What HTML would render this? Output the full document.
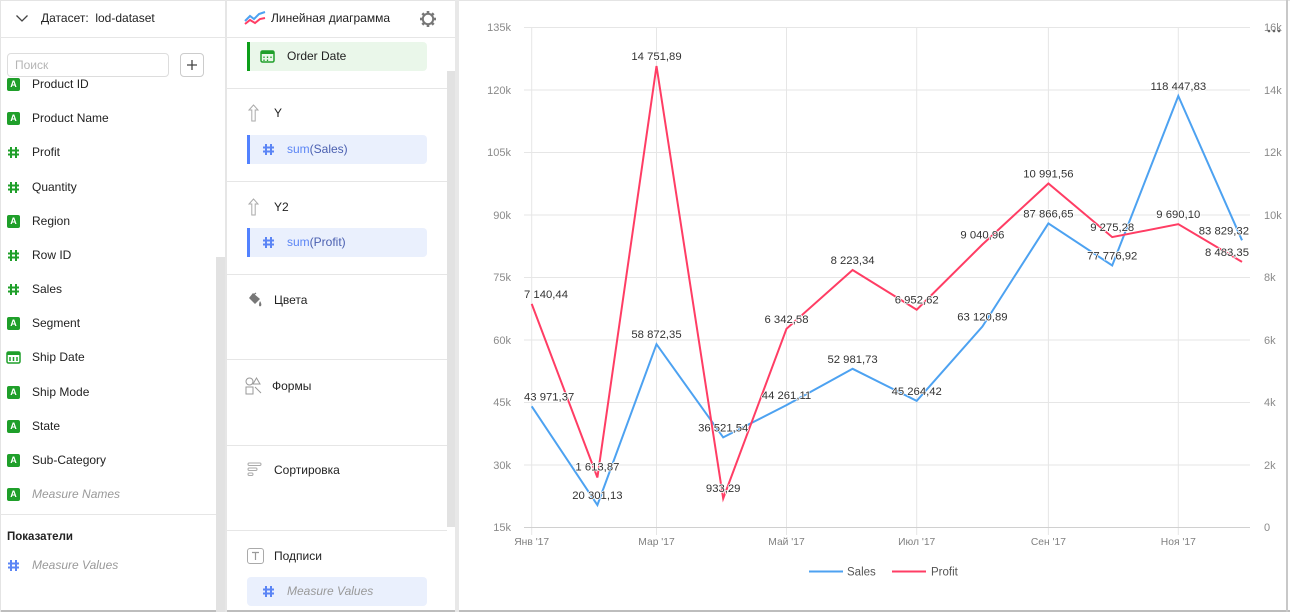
<!DOCTYPE html>
<html><head><meta charset="utf-8">
<style>
*{margin:0;padding:0;box-sizing:border-box}
body{width:1290px;height:612px;overflow:hidden;background:#fff;font-family:"Liberation Sans",sans-serif;color:#222;position:relative}
.a{position:absolute}
.t{position:absolute;height:20px;line-height:20px;font-size:12px;white-space:nowrap;color:#222}
.ai{position:absolute;width:13px;height:13px;background:#1f9f2a;border-radius:2px;color:#fff;font-weight:bold;font-size:9px;line-height:13px;text-align:center}
.box{position:absolute;left:247px;width:180px;height:29px;border-radius:4px}
.div{position:absolute;left:227px;width:220px;height:1px;background:#e6e6e6}
</style></head><body>

<!-- frame lines -->
<div class="a" style="left:0;top:0;width:1290px;height:1px;background:#e4e4e4"></div>
<div class="a" style="left:0;top:610px;width:1290px;height:2px;background:#bdbdbd"></div>
<div class="a" style="left:1286px;top:0;width:2px;height:612px;background:#c8c8c8"></div>
<div class="a" style="left:0;top:0;width:1px;height:612px;background:#e4e4e4"></div>

<!-- left panel -->
<div class="a" style="left:0;top:37px;width:455px;height:1px;background:#e6e6e6"></div>
<div class="a" style="left:225px;top:0;width:2px;height:612px;background:#e6e6e6"></div>
<svg class="a" style="left:15px;top:13px" width="14" height="10"><path d="M1.5 2.5 L7 8 L12.5 2.5" fill="none" stroke="#444" stroke-width="1.3"/></svg>
<div class="t" style="left:41px;top:8px">Датасет:&nbsp; lod-dataset</div>

<div class="a" style="left:7px;top:53px;width:162px;height:24px;border:1px solid #ddd;border-radius:4px"></div>
<div class="t" style="left:15px;top:55px;color:#b5b5b5">Поиск</div>
<div class="a" style="left:180px;top:53px;width:24px;height:24px;border:1px solid #ccc;border-radius:4px"></div>
<svg class="a" style="left:186px;top:59px" width="12" height="12"><path d="M6 1V11M1 6H11" stroke="#444" stroke-width="1.3"/></svg>

<!-- list -->
<div class="ai" style="left:7px;top:78px">A</div><div class="t" style="left:32px;top:74px">Product ID</div>
<div class="ai" style="left:7px;top:112px">A</div><div class="t" style="left:32px;top:108px">Product Name</div>
<svg class="a" style="left:7px;top:146px" width="13" height="13"><path d="M4 1V12M9 1V12M1 4.5H12M1 8.5H12" stroke="#1f9f2a" stroke-width="2"/></svg><div class="t" style="left:32px;top:142px">Profit</div>
<svg class="a" style="left:7px;top:181px" width="13" height="13"><path d="M4 1V12M9 1V12M1 4.5H12M1 8.5H12" stroke="#1f9f2a" stroke-width="2"/></svg><div class="t" style="left:32px;top:177px">Quantity</div>
<div class="ai" style="left:7px;top:215px">A</div><div class="t" style="left:32px;top:211px">Region</div>
<svg class="a" style="left:7px;top:249px" width="13" height="13"><path d="M4 1V12M9 1V12M1 4.5H12M1 8.5H12" stroke="#1f9f2a" stroke-width="2"/></svg><div class="t" style="left:32px;top:245px">Row ID</div>
<svg class="a" style="left:7px;top:283px" width="13" height="13"><path d="M4 1V12M9 1V12M1 4.5H12M1 8.5H12" stroke="#1f9f2a" stroke-width="2"/></svg><div class="t" style="left:32px;top:279px">Sales</div>
<div class="ai" style="left:7px;top:317px">A</div><div class="t" style="left:32px;top:313px">Segment</div>
<svg class="a" style="left:6px;top:351px" width="15" height="13"><rect x="1" y="1" width="13" height="11" rx="1.5" fill="none" stroke="#1f9f2a" stroke-width="1.5"/><rect x="1" y="1" width="13" height="3" fill="#1f9f2a"/><path d="M4 6V10M7.5 6V10M11 6V10" stroke="#1f9f2a" stroke-width="1.5"/></svg><div class="t" style="left:32px;top:347px">Ship Date</div>
<div class="ai" style="left:7px;top:386px">A</div><div class="t" style="left:32px;top:382px">Ship Mode</div>
<div class="ai" style="left:7px;top:420px">A</div><div class="t" style="left:32px;top:416px">State</div>
<div class="ai" style="left:7px;top:454px">A</div><div class="t" style="left:32px;top:450px">Sub-Category</div>
<div class="ai" style="left:7px;top:488px">A</div><div class="t" style="left:32px;top:484px;font-style:italic;color:#999">Measure Names</div>
<div class="a" style="left:0;top:514px;width:216px;height:1px;background:#e6e6e6"></div>
<div class="t" style="left:7px;top:527px;font-weight:bold;font-size:11.5px">Показатели</div>
<svg class="a" style="left:7px;top:559px" width="13" height="13"><path d="M4 1V12M9 1V12M1 4.5H12M1 8.5H12" stroke="#5b85f5" stroke-width="2"/></svg><div class="t" style="left:32px;top:555px;font-style:italic;color:#999">Measure Values</div>
<div class="a" style="left:216px;top:257px;width:9px;height:355px;background:#e2e2e2"></div>

<!-- middle panel -->
<svg class="a" style="left:244px;top:10px" width="22" height="16"><path d="M1 11 L6 6 L10 9 L15 4 L21 2" fill="none" stroke="#4da2f1" stroke-width="2"/><path d="M1 14 L6 10 L11 13 L16 9 L21 8" fill="none" stroke="#ff3d64" stroke-width="2"/></svg>
<div class="t" style="left:271px;top:8px">Линейная диаграмма</div>
<svg class="a" style="left:419px;top:10px" width="18" height="18" viewBox="0 0 18 18"><g transform="translate(9 9)" fill="#777"><circle r="5.2" fill="none" stroke="#777" stroke-width="2"/><rect x="-1.3" y="-8" width="2.6" height="3.2"/><rect x="-1.3" y="4.8" width="2.6" height="3.2"/><rect x="-8" y="-1.3" width="3.2" height="2.6"/><rect x="4.8" y="-1.3" width="3.2" height="2.6"/><g transform="rotate(45)"><rect x="-1.3" y="-8" width="2.6" height="3.2"/><rect x="-1.3" y="4.8" width="2.6" height="3.2"/><rect x="-8" y="-1.3" width="3.2" height="2.6"/><rect x="4.8" y="-1.3" width="3.2" height="2.6"/></g></g></svg>

<div class="box" style="top:42px;background:#eaf7ea"></div>
<div class="a" style="left:247px;top:42px;width:3px;height:29px;background:#0c9e19"></div>
<svg class="a" style="left:260px;top:50px" width="15" height="13"><rect x="1" y="1" width="13" height="11" rx="1.5" fill="none" stroke="#1f9f2a" stroke-width="1.5"/><rect x="1" y="1" width="13" height="3" fill="#1f9f2a"/><path d="M4 6.5V8M7.5 6.5V8M11 6.5V8M4 9.5V11M7.5 9.5V11" stroke="#1f9f2a" stroke-width="1.3"/></svg>
<div class="t" style="left:287px;top:46px">Order Date</div>
<div class="div" style="top:88px"></div>

<svg class="a" style="left:248px;top:104px" width="11" height="18"><path d="M5.5 1 L1 6 H3.8 V17 H7.2 V6 H10 Z" fill="none" stroke="#aaa" stroke-width="1"/></svg>
<div class="t" style="left:274px;top:103px">Y</div>
<div class="box" style="top:135px;background:#eaf0fd"></div>
<div class="a" style="left:247px;top:135px;width:3px;height:29px;background:#5282ff"></div>
<svg class="a" style="left:262px;top:143px" width="13" height="13"><path d="M4 1V12M9 1V12M1 4.5H12M1 8.5H12" stroke="#5b85f5" stroke-width="2"/></svg>
<div class="t" style="left:287px;top:139px"><span style="color:#5b85f5">sum</span><span style="color:#4a5fb0">(Sales)</span></div>
<div class="div" style="top:181px"></div>

<svg class="a" style="left:248px;top:198px" width="11" height="18"><path d="M5.5 1 L1 6 H3.8 V17 H7.2 V6 H10 Z" fill="none" stroke="#aaa" stroke-width="1"/></svg>
<div class="t" style="left:274px;top:197px">Y2</div>
<div class="box" style="top:228px;background:#eaf0fd"></div>
<div class="a" style="left:247px;top:228px;width:3px;height:29px;background:#5282ff"></div>
<svg class="a" style="left:262px;top:236px" width="13" height="13"><path d="M4 1V12M9 1V12M1 4.5H12M1 8.5H12" stroke="#5b85f5" stroke-width="2"/></svg>
<div class="t" style="left:287px;top:232px"><span style="color:#5b85f5">sum</span><span style="color:#4a5fb0">(Profit)</span></div>
<div class="div" style="top:274px"></div>

<svg class="a" style="left:247px;top:292px" width="17" height="16"><path d="M6 1 L2 6 L8 12 L13 7 Z" fill="#777"/><path d="M13 9 Q15 12 14 14 Q12 15 12 13 Q12 11 13 9Z" fill="#777"/><path d="M5 4 L9 1" stroke="#777" stroke-width="1.2"/></svg>
<div class="t" style="left:274px;top:290px">Цвета</div>
<div class="div" style="top:359px"></div>

<svg class="a" style="left:245px;top:377px" width="18" height="18"><circle cx="4.5" cy="4.5" r="3.5" fill="none" stroke="#999" stroke-width="1"/><path d="M11.5 1 L15 7 H8 Z" fill="none" stroke="#999" stroke-width="1"/><rect x="1" y="10" width="7" height="7" fill="none" stroke="#999" stroke-width="1"/><path d="M10 10 L16 16" stroke="#999" stroke-width="1"/></svg>
<div class="t" style="left:272px;top:376px">Формы</div>
<div class="div" style="top:445px"></div>

<svg class="a" style="left:247px;top:462px" width="16" height="16"><rect x="1" y="1" width="13" height="2.5" rx="1.2" fill="none" stroke="#aaa" stroke-width="1"/><rect x="1" y="6" width="9" height="2.5" rx="1.2" fill="none" stroke="#aaa" stroke-width="1"/><rect x="1" y="11" width="5" height="2.5" rx="1.2" fill="none" stroke="#aaa" stroke-width="1"/></svg>
<div class="t" style="left:274px;top:460px">Сортировка</div>
<div class="div" style="top:530px"></div>

<svg class="a" style="left:247px;top:548px" width="18" height="17"><rect x="0.5" y="0.5" width="16" height="15" rx="2.5" fill="none" stroke="#aaa" stroke-width="1"/><path d="M5 4.5 H12 M8.5 4.5 V12" stroke="#999" stroke-width="1.2"/></svg>
<div class="t" style="left:274px;top:546px">Подписи</div>
<div class="box" style="top:577px;background:#eaf0fd"></div>
<svg class="a" style="left:262px;top:585px" width="13" height="13"><path d="M4 1V12M9 1V12M1 4.5H12M1 8.5H12" stroke="#5b85f5" stroke-width="2"/></svg>
<div class="t" style="left:287px;top:581px;font-style:italic;color:#999">Measure Values</div>

<div class="a" style="left:447px;top:71px;width:8px;height:456px;background:#e2e2e2"></div>
<div class="a" style="left:455px;top:0;width:4px;height:612px;background:#e8e8e8"></div>

<!-- chart -->
<svg class="a" style="left:0;top:0" width="1290" height="612" font-family="Liberation Sans, sans-serif">
<g stroke="#e6e6e6" stroke-width="1">
<path d="M524 27.5H1250M524 90H1250M524 152.5H1250M524 215H1250M524 277.5H1250M524 340H1250M524 402.5H1250M524 465H1250"/>
<path d="M531.7 27V535M656.5 27V535M786.5 27V535M916.7 27V535M1048.4 27V535M1178.3 27V535"/>
</g>
<path d="M524 527.5H1250" stroke="#d0d0d0" stroke-width="1"/>
<g font-size="11" fill="#8a8a8a" text-anchor="end">
<text x="511" y="31">135k</text><text x="511" y="94">120k</text><text x="511" y="156">105k</text><text x="511" y="219">90k</text><text x="511" y="281">75k</text><text x="511" y="344">60k</text><text x="511" y="406">45k</text><text x="511" y="469">30k</text><text x="511" y="531">15k</text>
</g>
<g font-size="11" fill="#8a8a8a">
<text x="1264" y="31">16k</text><text x="1264" y="94">14k</text><text x="1264" y="156">12k</text><text x="1264" y="219">10k</text><text x="1264" y="281">8k</text><text x="1264" y="344">6k</text><text x="1264" y="406">4k</text><text x="1264" y="469">2k</text><text x="1264" y="531">0</text>
</g>
<g fill="#666"><circle cx="1269" cy="31" r="1.3"/><circle cx="1274" cy="31" r="1.3"/><circle cx="1279" cy="31" r="1.3"/></g>
<g font-size="10.3" fill="#808080" text-anchor="middle">
<text x="531.7" y="545">Янв '17</text><text x="656.5" y="545">Мар '17</text><text x="786.5" y="545">Май '17</text><text x="916.7" y="545">Июл '17</text><text x="1048.4" y="545">Сен '17</text><text x="1178.3" y="545">Ноя '17</text>
</g>
<polyline fill="none" stroke="#4da2f1" stroke-width="2" stroke-linejoin="miter" points="531.7,406.3 597.4,505 656.5,344.2 723.2,437.4 786.5,405.1 852.6,368.8 916.7,400.9 982.4,326.5 1048.4,223.4 1112.2,265.5 1178.3,96 1242,240.3"/>
<polyline fill="none" stroke="#ff3d64" stroke-width="2" stroke-linejoin="miter" points="531.7,303.9 597.4,477.5 656.5,66 723.2,498.5 786.5,328.8 852.6,270 916.7,309.7 982.4,244.5 1048.4,183.5 1112.2,237.1 1178.3,224.2 1242,261.9"/>
<g font-size="11.3" fill="#333" text-anchor="middle" stroke="#fff" stroke-width="1.5" paint-order="stroke" stroke-linejoin="round">
<text x="524" y="400.3" text-anchor="start">43 971,37</text>
<text x="597.4" y="499">20 301,13</text>
<text x="656.5" y="338.2">58 872,35</text>
<text x="723.2" y="431.4">36 521,54</text>
<text x="786.5" y="399.1">44 261,11</text>
<text x="852.6" y="362.8">52 981,73</text>
<text x="916.7" y="394.9">45 264,42</text>
<text x="982.4" y="320.5">63 120,89</text>
<text x="1048.4" y="217.4">87 866,65</text>
<text x="1112.2" y="259.5">77 776,92</text>
<text x="1178.3" y="90">118 447,83</text>
<text x="1249" y="234.3" text-anchor="end">83 829,32</text>
<text x="524" y="297.9" text-anchor="start">7 140,44</text>
<text x="597.4" y="470.6">1 613,87</text>
<text x="656.5" y="60">14 751,89</text>
<text x="723.2" y="491.8">933,29</text>
<text x="786.5" y="322.8">6 342,58</text>
<text x="852.6" y="264">8 223,34</text>
<text x="916.7" y="303.7">6 952,62</text>
<text x="982.4" y="238.5">9 040,96</text>
<text x="1048.4" y="177.5">10 991,56</text>
<text x="1112.2" y="231.1">9 275,28</text>
<text x="1178.3" y="218.2">9 690,10</text>
<text x="1249" y="255.9" text-anchor="end">8 483,35</text>
</g>
<path d="M809 571.5H843" stroke="#4da2f1" stroke-width="2"/>
<text x="847" y="575.5" font-size="11.5" fill="#555">Sales</text>
<path d="M892 571.5H926" stroke="#ff3d64" stroke-width="2"/>
<text x="931" y="575.5" font-size="11.5" fill="#555">Profit</text>
</svg>
</body></html>
